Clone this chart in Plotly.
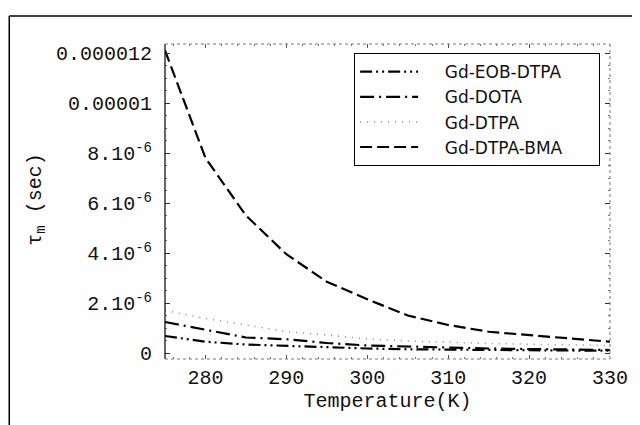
import plotly.graph_objects as go

temp = [275, 280, 285, 290, 295, 300, 305, 310, 315, 320, 325, 330]

# tau_m in units of 1e-6 s
eob_dtpa = [0.68, 0.45, 0.34, 0.28, 0.22, 0.18, 0.15, 0.13, 0.12, 0.11, 0.10, 0.09]
dota = [1.24, 0.92, 0.62, 0.55, 0.40, 0.30, 0.25, 0.20, 0.18, 0.16, 0.14, 0.12]
dtpa = [1.70, 1.38, 1.12, 0.86, 0.72, 0.56, 0.48, 0.42, 0.38, 0.35, 0.32, 0.30]
dtpa_bma = [12.1, 7.8, 5.5, 3.95, 2.85, 2.15, 1.5, 1.12, 0.85, 0.72, 0.6, 0.45]

y_ticks = [0, 2e-6, 4e-6, 6e-6, 8e-6, 1e-5, 1.2e-5]
y_labels = ['0', '2.10<sup>-6</sup>', '4.10<sup>-6</sup>', '6.10<sup>-6</sup>',
            '8.10<sup>-6</sup>', '0.00001', '0.000012']
x_ticks = [280, 290, 300, 310, 320, 330]

mono = 'Liberation Mono'
# non-breaking spaces widen the legend box like the original
pre = '\u00a0' * 4
post = '\u00a0' * 6

fig = go.Figure()
fig.add_trace(go.Scatter(x=temp, y=[v * 1e-6 for v in eob_dtpa],
                         name=pre + 'Gd-EOB-DTPA' + post, mode='lines',
                         line=dict(color='black', width=2.2,
                                   dash='12px,4px,2px,4px,2px,4px')))
fig.add_trace(go.Scatter(x=temp, y=[v * 1e-6 for v in dota],
                         name=pre + 'Gd-DOTA', mode='lines',
                         line=dict(color='black', width=2.2,
                                   dash='14px,5px,2px,5px')))
fig.add_trace(go.Scatter(x=temp, y=[v * 1e-6 for v in dtpa],
                         name=pre + 'Gd-DTPA', mode='lines',
                         line=dict(color='#888', width=1.5, dash='1px,6px')))
fig.add_trace(go.Scatter(x=temp, y=[v * 1e-6 for v in dtpa_bma],
                         name=pre + 'Gd-DTPA-BMA', mode='lines',
                         line=dict(color='black', width=2.2, dash='12px,5px')))

# plot frame: solid left edge, faint dotted on the other sides
frame = [
    dict(x0=0, x1=0, y0=0, y1=1, line=dict(color='black', width=1.2)),
    dict(x0=0, x1=1, y0=1, y1=1, line=dict(color='#777', width=1, dash='dot')),
    dict(x0=1, x1=1, y0=0, y1=1, line=dict(color='#777', width=1, dash='dot')),
    dict(x0=0, x1=1, y0=0, y1=0, line=dict(color='#777', width=1, dash='dot')),
    # outer page border
    dict(x0=-0.35, x1=1.06, y0=1.089, y1=1.089, line=dict(color='black', width=1.5)),
    dict(x0=-0.35, x1=-0.35, y0=-0.22, y1=1.089, line=dict(color='black', width=1.5)),
]
for s in frame:
    s.update(type='line', xref='paper', yref='paper')

# page body adds an 8px offset, so the figure is 8px smaller and shifted
fig.update_layout(
    width=632, height=417,
    margin=dict(l=157, r=23, t=36, b=66),
    paper_bgcolor='white', plot_bgcolor='white',
    font=dict(family=mono, size=20, color='#111'),
    shapes=frame,
    showlegend=True,
    legend=dict(x=0.425, y=0.971, xanchor='left', yanchor='top',
                bgcolor='white', bordercolor='black', borderwidth=1,
                font=dict(family='DejaVu Sans', size=17, color='#111'),
                itemwidth=58, tracegroupgap=0),
    annotations=[dict(text='τ<sub>m</sub> (sec)', textangle=-90,
                      xref='paper', yref='paper', x=-0.288, y=0.505,
                      xanchor='center', yanchor='middle',
                      showarrow=False, font=dict(family=mono, size=20))],
)
fig.update_xaxes(range=[275, 330], tickvals=x_ticks, showgrid=False,
                 zeroline=False, showline=False, ticks='inside', ticklen=4,
                 tickcolor='#555', mirror='ticks', ticklabelstandoff=4,
                 minor=dict(dtick=2, ticks='inside', ticklen=2, tickcolor='#777'),
                 title=dict(text='Temperature(K)', standoff=2,
                            font=dict(family=mono, size=20)))
fig.update_yaxes(range=[-0.24e-6, 12.36e-6], tickvals=y_ticks, ticktext=y_labels,
                 showgrid=False, zeroline=False, showline=False,
                 ticks='inside', ticklen=5, tickcolor='#333', mirror='ticks',
                 ticklabelstandoff=12,
                 minor=dict(dtick=0.5e-6, ticks='inside', ticklen=2, tickcolor='#777'))

fig.write_html('out.html')
